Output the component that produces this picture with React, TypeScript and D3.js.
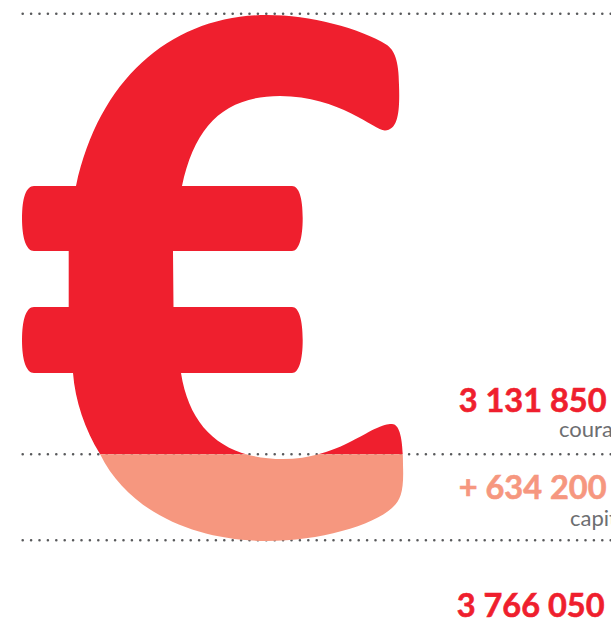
import React from "react";
import * as d3 from "d3";

const VALUES = [3131850, 634200];
const TOTAL = 3766050;
const LABELS = ["courant", "capital"];
const PREFIXES = ["", "+ "];
const COLORS = ["#EF1F2E", "#F6977F"];

// euro sign outline, one entry per segment: [x, y] is a line, six numbers a cubic
const EURO_START = [76, 186];
const EURO_SEGMENTS = [
  [100, 75, 175, 15, 267, 15],
  [310, 15, 360, 28, 387, 45],
  [394, 50, 399, 60, 399, 85],
  [400, 112, 398, 130, 385, 130.5],
  [375, 131, 340, 96, 280, 96],
  [225, 96, 195, 125, 182, 186],
  [292, 186],
  [299, 186, 302.7, 198, 302.7, 218],
  [302.7, 238, 299, 251, 292, 251],
  [173, 251],
  [173.5, 307],
  [292, 307],
  [299, 307, 302.7, 320, 302.7, 340],
  [302.7, 360, 299, 373, 292, 373],
  [181, 373],
  [190, 430, 225, 459, 283, 459],
  [330, 459, 360, 435, 377, 428],
  [385, 424, 390, 424, 392, 424],
  [400, 424, 403, 440, 403, 465],
  [404, 490, 401, 500, 393, 507],
  [375, 525, 320, 541, 267, 541],
  [200, 541, 130, 515, 100, 454],
  [85, 430, 75, 400, 73, 373],
  [34, 373],
  [26, 373, 22, 360, 22, 340],
  [22, 320, 26, 307, 34, 307],
  [68.7, 307],
  [68.7, 251],
  [34, 251],
  [26, 251, 22, 238, 22, 218],
  [22, 198, 26, 186, 34, 186],
];

const width = 611;
const height = 619;
const FONT = "Lato, Carlito, sans-serif";

const fmt = d3.formatLocale({ decimal: ",", thousands: " ", grouping: [3], currency: ["", ""] }).format(",d");

function euroPath() {
  const p = d3.path();
  p.moveTo(EURO_START[0], EURO_START[1]);
  EURO_SEGMENTS.forEach((s) => {
    if (s.length === 2) p.lineTo(s[0], s[1]);
    else p.bezierCurveTo(s[0], s[1], s[2], s[3], s[4], s[5]);
  });
  p.closePath();
  return p.toString();
}

export default function App() {
  // red part fills from the top of the glyph, capital sits under it
  const y = d3.scaleLinear().domain([0, VALUES[0], TOTAL]).range([13.7, 454.3, 540.3]);
  const bands = [
    { from: 0, to: VALUES[0] },
    { from: VALUES[0], to: TOTAL + 60000 },
  ];
  const ticks = [0, VALUES[0], TOTAL];
  const d = euroPath();

  const numberY = [412, 499];
  const labelY = [437, 526];
  const labelX = [559, 570];

  return (
    <svg
      width={width}
      height={height}
      style={{ position: "absolute", left: 0, top: 0, display: "block" }}
    >
      <rect width={width} height={height} fill="#fff" />
      <defs>
        {bands.map((b, i) => (
          <clipPath id={`band-${i}`} key={i}>
            <rect x={0} y={y(b.from)} width={width} height={y(b.to) - y(b.from)} />
          </clipPath>
        ))}
      </defs>

      {ticks.map((t) => (
        <line
          key={t}
          x1={22.7}
          x2={width}
          y1={y(t)}
          y2={y(t)}
          stroke="#58595b"
          strokeWidth={2.6}
          strokeLinecap="round"
          strokeDasharray="0 8.4"
        />
      ))}

      {bands.map((b, i) => (
        <path key={i} d={d} fill={COLORS[i]} clipPath={`url(#band-${i})`} />
      ))}

      {VALUES.map((v, i) => (
        <g key={i}>
          <text
            x={606.5}
            y={numberY[i]}
            textAnchor="end"
            fontFamily={FONT}
            fontWeight={700}
            fontSize={32.5}
            fill={COLORS[i]}
            stroke={COLORS[i]}
            strokeWidth={0.6}
          >
            {PREFIXES[i] + fmt(v)}
          </text>
          <text x={labelX[i]} y={labelY[i]} fontFamily={FONT} fontSize={22} fill="#6d6e71">
            {LABELS[i]}
          </text>
        </g>
      ))}
      <text
        x={604.5}
        y={617}
        textAnchor="end"
        fontFamily={FONT}
        fontWeight={700}
        fontSize={32.5}
        fill={COLORS[0]}
        stroke={COLORS[0]}
        strokeWidth={0.6}
      >
        {fmt(TOTAL)}
      </text>
    </svg>
  );
}
